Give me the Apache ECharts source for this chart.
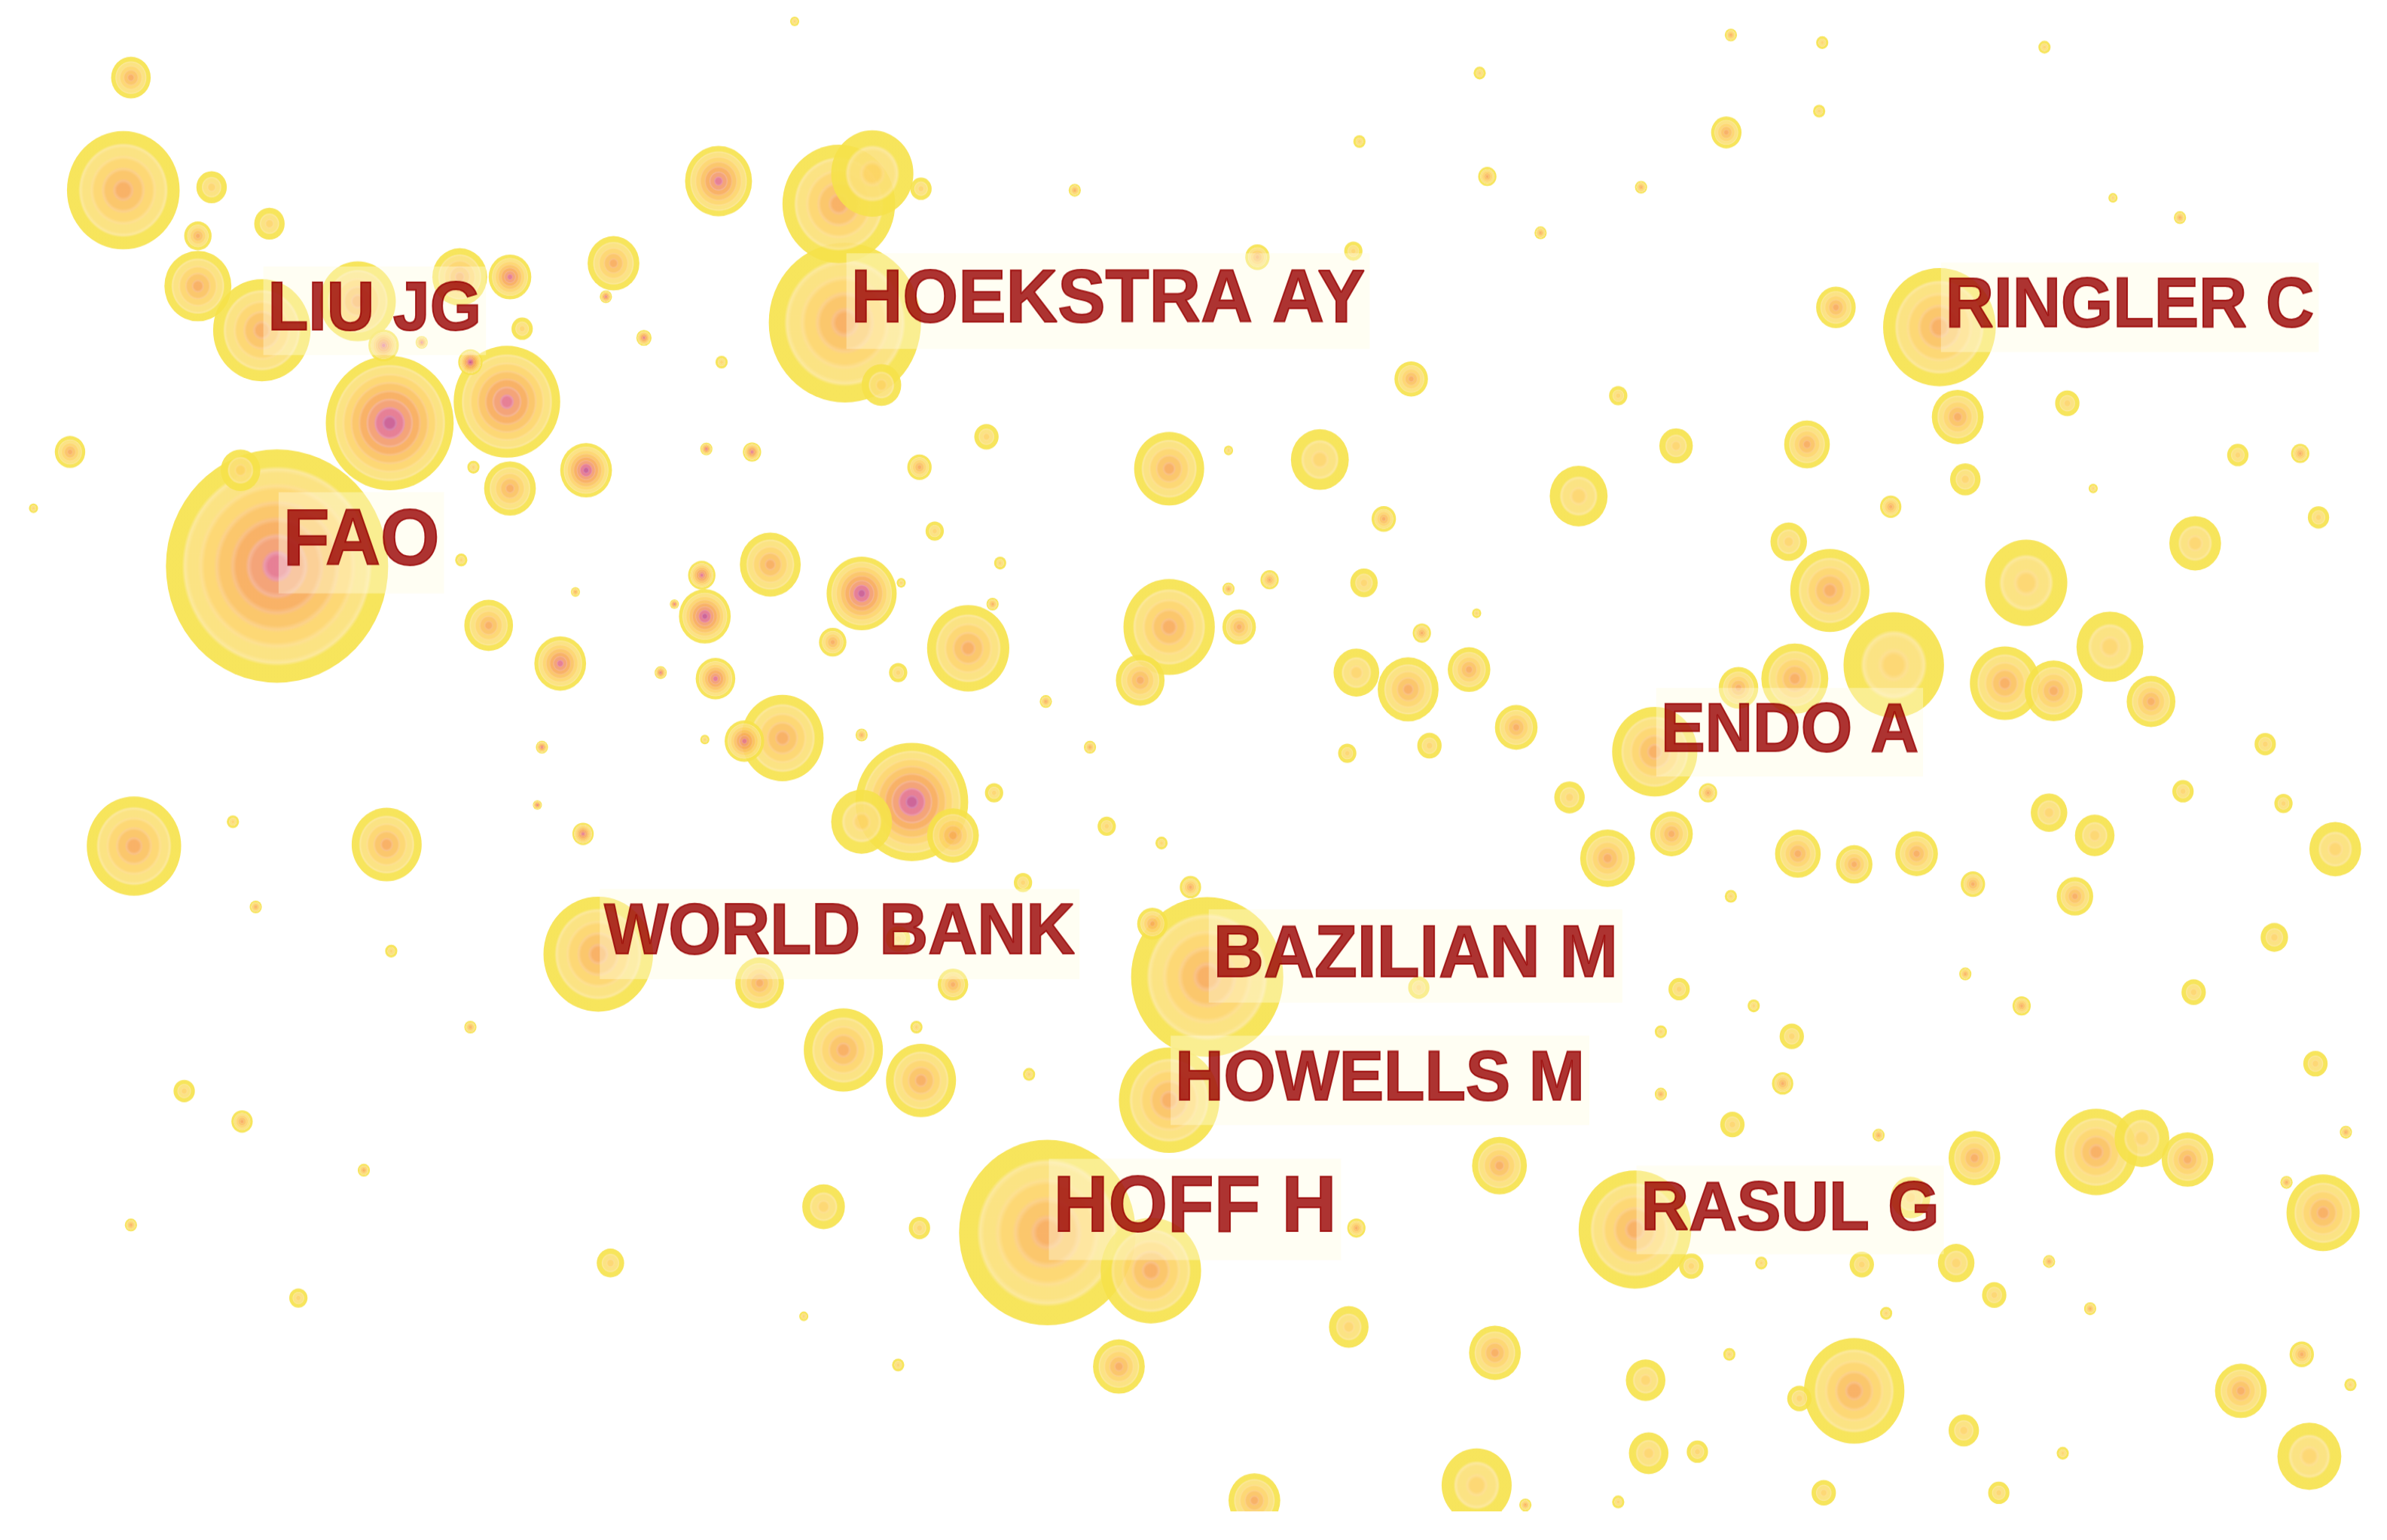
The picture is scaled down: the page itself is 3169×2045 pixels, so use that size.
<!DOCTYPE html>
<html>
<head>
<meta charset="utf-8">
<script src="https://cdn.jsdelivr.net/npm/echarts/dist/echarts.min.js"></script>
<style>
  html { overflow: hidden; background: #ffffff; }
  body { margin: 0; padding: 0; width: 3169px; height: 2045px; background: #ffffff; }
  /* the source picture is stretched ~5% vertically, so is this one */
  #chart { width: 3169px; height: 1911px; transform: scaleY(1.05); transform-origin: 0 0; }
</style>
</head>
<body>
<div id="chart"></div>
<script>
// Nodes: [x, y, size, first year cited] in picture units (x 0-1568, y 0-993)
const nodesTopLeft = [
    [86, 51, 13, 2009], [81, 125, 37, 2009], [139, 123, 10, 2014], [130, 155, 9, 2009],
    [177, 147, 10, 2014], [130, 188, 22, 2009], [172, 217, 32, 2009], [235, 198, 25, 2009],
    [302, 182, 18, 2009], [335, 182, 14, 2004], [403, 173, 17, 2009], [472, 119, 22, 2004],
    [398, 195, 4, 2004], [343, 216, 7, 2014], [252, 227, 10, 2004], [277, 225, 4, 2004],
    [309, 238, 8, 2000], [256, 278, 42, 2000], [333, 264, 35, 2004], [423, 222, 5, 2004],
    [474, 238, 4, 2014], [46, 297, 10, 2009], [22, 334, 3, 2014], [158, 309, 13, 2014],
    [182, 372, 73, 2004], [311, 307, 4, 2014], [335, 321, 17, 2009], [385, 309, 17, 2000],
    [303, 368, 4, 2014], [464, 295, 4, 2004], [494, 297, 6, 2004], [506, 371, 20, 2009],
    [461, 378, 9, 2004], [463, 405, 17, 2000], [378, 389, 3, 2009], [321, 411, 16, 2009],
    [368, 436, 17, 2004], [443, 397, 3, 2004], [434, 442, 4, 2004], [470, 446, 13, 2004],
    [489, 487, 13, 2004], [514, 485, 27, 2009], [356, 491, 4, 2004], [463, 486, 3, 2014]
];
const nodesTopMid = [
    [522, 14, 3, 2014], [551, 134, 37, 2009], [573, 114, 27, 2014], [605, 124, 7, 2014],
    [555, 212, 50, 2009], [579, 253, 13, 2014], [706, 125, 4, 2009], [826, 169, 8, 2009],
    [889, 165, 6, 2014], [972, 48, 4, 2014], [893, 93, 4, 2014], [977, 116, 6, 2009],
    [1012, 153, 4, 2009], [927, 249, 11, 2009], [648, 287, 8, 2014], [604, 307, 8, 2009],
    [768, 308, 23, 2009], [807, 296, 3, 2014], [867, 302, 19, 2014], [1037, 326, 19, 2014],
    [909, 341, 8, 2009], [614, 349, 6, 2014], [566, 390, 23, 2000], [592, 383, 3, 2014],
    [657, 370, 4, 2014], [652, 397, 4, 2009], [547, 422, 9, 2009], [636, 426, 27, 2009],
    [590, 442, 6, 2014], [768, 412, 30, 2009], [749, 447, 16, 2009], [814, 412, 11, 2009],
    [807, 387, 4, 2009], [834, 381, 6, 2009], [896, 383, 9, 2014], [970, 403, 3, 2014],
    [934, 416, 6, 2009], [891, 442, 15, 2014], [925, 453, 20, 2009], [965, 440, 14, 2009],
    [996, 478, 14, 2009], [939, 490, 8, 2014], [885, 495, 6, 2014], [687, 461, 4, 2009],
    [566, 483, 4, 2009], [716, 491, 4, 2009]
];
const nodesTopRight = [
    [1137, 23, 4, 2009], [1197, 28, 4, 2014], [1343, 31, 4, 2014], [1134, 87, 10, 2009],
    [1195, 73, 4, 2014], [1078, 123, 4, 2009], [1388, 130, 3, 2014], [1432, 143, 4, 2009],
    [1206, 202, 13, 2009], [1274, 215, 37, 2009], [1063, 260, 6, 2014], [1286, 274, 17, 2009],
    [1358, 265, 8, 2014], [1101, 293, 11, 2014], [1187, 292, 15, 2009], [1291, 315, 10, 2014],
    [1375, 321, 3, 2014], [1470, 299, 7, 2014], [1511, 298, 6, 2009], [1242, 333, 7, 2009],
    [1523, 340, 7, 2014], [1175, 356, 12, 2014], [1202, 388, 26, 2009], [1331, 383, 27, 2014],
    [1442, 357, 17, 2014], [1179, 446, 22, 2009], [1244, 437, 33, 2014], [1142, 452, 13, 2009],
    [1317, 449, 23, 2009], [1349, 454, 19, 2009], [1386, 425, 22, 2014], [1413, 461, 16, 2009],
    [1488, 489, 7, 2014], [1087, 494, 28, 2009]
];
const nodesBottomLeft = [
    [88, 556, 31, 2009], [153, 540, 4, 2014], [254, 555, 23, 2009], [353, 529, 3, 2004],
    [383, 548, 7, 2004], [168, 596, 4, 2009], [257, 625, 4, 2014], [393, 627, 36, 2009],
    [499, 646, 16, 2009], [309, 675, 4, 2009], [121, 717, 7, 2014], [159, 737, 7, 2009],
    [239, 769, 4, 2009], [86, 805, 4, 2009], [401, 830, 9, 2014], [196, 853, 6, 2014]
];
const nodesBottomMid = [
    [599, 527, 37, 2000], [566, 540, 20, 2014], [626, 549, 17, 2009], [653, 521, 6, 2014],
    [727, 543, 6, 2014], [763, 554, 4, 2014], [672, 580, 6, 2014], [782, 583, 7, 2009],
    [757, 607, 10, 2009], [793, 642, 50, 2009], [626, 647, 10, 2009], [590, 617, 8, 2014],
    [554, 690, 26, 2009], [605, 710, 23, 2009], [602, 675, 4, 2014], [676, 706, 4, 2014],
    [768, 723, 33, 2009], [932, 649, 7, 2014], [985, 766, 18, 2009], [1031, 524, 10, 2014],
    [688, 810, 58, 2009], [756, 835, 33, 2009], [541, 793, 14, 2014], [604, 807, 7, 2014],
    [891, 807, 6, 2009], [886, 872, 13, 2014], [982, 889, 17, 2009], [735, 898, 17, 2009],
    [590, 897, 4, 2014], [528, 865, 3, 2014], [970, 976, 23, 2014], [824, 986, 17, 2009],
    [1002, 989, 4, 2009]
];
const nodesBottomRight = [
    [1122, 521, 6, 2009], [1056, 564, 18, 2009], [1098, 548, 14, 2009], [1181, 561, 15, 2009],
    [1218, 568, 12, 2009], [1259, 561, 14, 2009], [1296, 581, 8, 2009], [1346, 534, 12, 2014],
    [1376, 549, 13, 2014], [1434, 520, 7, 2014], [1500, 528, 6, 2014], [1534, 558, 17, 2014],
    [1363, 589, 12, 2009], [1137, 589, 4, 2014], [1494, 616, 9, 2014], [1291, 640, 4, 2009],
    [1328, 661, 6, 2009], [1441, 652, 8, 2014], [1103, 650, 7, 2014], [1152, 661, 4, 2014],
    [1091, 678, 4, 2014], [1177, 681, 8, 2014], [1171, 712, 7, 2009], [1091, 719, 4, 2009],
    [1521, 699, 8, 2014], [1138, 739, 8, 2014], [1234, 746, 4, 2009], [1297, 761, 17, 2009],
    [1377, 757, 27, 2009], [1407, 748, 18, 2014], [1437, 762, 17, 2009], [1541, 744, 4, 2009],
    [1502, 777, 4, 2009], [1526, 797, 24, 2009], [1074, 808, 37, 2009], [1111, 832, 8, 2014],
    [1157, 830, 4, 2014], [1223, 831, 8, 2014], [1255, 787, 13, 2014], [1285, 830, 12, 2014],
    [1346, 829, 4, 2009], [1310, 851, 8, 2014], [1373, 860, 4, 2009], [1239, 863, 4, 2014],
    [1136, 890, 4, 2014], [1081, 907, 13, 2014], [1182, 919, 8, 2014], [1218, 914, 33, 2009],
    [1290, 940, 10, 2014], [1355, 955, 4, 2014], [1472, 914, 17, 2009], [1512, 890, 8, 2009],
    [1544, 910, 4, 2014], [1517, 957, 21, 2014], [1083, 955, 13, 2014], [1115, 954, 7, 2014],
    [1198, 981, 8, 2014], [1313, 981, 7, 2014], [1063, 987, 4, 2014]
];

// Labelled nodes: [name, x, y]
const labelNodes = [
    ['FAO', 182, 372], ['HOEKSTRA AY', 555, 212], ['LIU JG', 172, 217],
    ['RINGLER C', 1274, 215], ['ENDO A', 1087, 494], ['WORLD BANK', 393, 627],
    ['BAZILIAN M', 793, 642], ['HOWELLS M', 768, 723], ['HOFF H', 688, 810],
    ['RASUL G', 1074, 808]
];

const X_MAX = 1568;
const Y_MAX = 993;
const W = 3169;
const PX = W / X_MAX;              // screen px per picture unit (horizontal)

// citation year rings: oldest (purple) -> newest (yellow)
const ramp = ['#c8558e', '#e4728a', '#f39a6a', '#f8aa56', '#fbc15c', '#fdd466', '#fbe076', '#f6e24a'];
const startIndex = { 2000: 0, 2004: 1, 2009: 3, 2014: 5 };

function lighten(hex, t) {
    const n = parseInt(hex.slice(1), 16);
    const f = v => Math.round(v + (255 - v) * t);
    return 'rgb(' + f((n >> 16) & 255) + ',' + f((n >> 8) & 255) + ',' + f(n & 255) + ')';
}

function ringGradient(year) {
    const cols = ramp.slice(startIndex[year]);
    const n = cols.length;
    const stops = [];
    cols.forEach((c, i) => {
        const a = i / n, b = (i + 1) / n;
        stops.push({ offset: a, color: c });
        stops.push({ offset: a + (b - a) * 0.55, color: c });
        if (i < n - 1) {
            stops.push({ offset: a + (b - a) * 0.8, color: lighten(c, 0.2) });
        }
    });
    stops.push({ offset: 1, color: cols[n - 1] });
    return { type: 'radial', x: 0.5, y: 0.5, r: 0.5, colorStops: stops };
}

const allNodes = [].concat(nodesTopLeft, nodesTopMid, nodesTopRight,
    nodesBottomLeft, nodesBottomMid, nodesBottomRight)
    .sort((a, b) => b[2] - a[2]);

const nodeData = allNodes.map(n => ({
    value: [n[0], n[1]],
    symbolSize: 2 * n[2] * PX,
    itemStyle: { color: ringGradient(n[3]) }
}));

const labelFont = {
    'FAO': 101, 'HOFF H': 101, 'HOEKSTRA AY': 95, 'BAZILIAN M': 93, 'WORLD BANK': 90,
    'RINGLER C': 89, 'HOWELLS M': 89, 'LIU JG': 88, 'ENDO A': 88, 'RASUL G': 88
};

const labelData = labelNodes.map(l => {
    const fs = labelFont[l[0]];
    return {
        name: l[0],
        value: [l[1], l[2]],
        label: {
            fontSize: fs,
            lineHeight: Math.round(fs * 1.27),
            position: [2, -0.36 * fs + 7]
        }
    };
});

const chart = echarts.init(document.getElementById('chart'), null, { renderer: 'canvas' });
chart.setOption({
    backgroundColor: '#ffffff',
    animation: false,
    grid: { left: 0, right: 0, top: 0, bottom: 0 },
    xAxis: { type: 'value', min: 0, max: X_MAX, show: false },
    yAxis: { type: 'value', min: 0, max: Y_MAX, inverse: true, show: false },
    series: [
        {
            type: 'scatter',
            silent: true,
            clip: false,
            symbol: 'circle',
            itemStyle: { opacity: 0.9 },
            data: nodeData,
            z: 2
        },
        {
            type: 'scatter',
            silent: true,
            clip: false,
            symbolSize: 0,
            data: labelData,
            z: 5,
            label: {
                show: true,
                formatter: '{b}',
                align: 'left',
                verticalAlign: 'middle',
                color: '#990000',
                textBorderColor: '#990000',
                textBorderWidth: 2,
                fontFamily: '"Liberation Sans", Arial, sans-serif',
                fontWeight: 'bold',
                backgroundColor: 'rgba(255,252,225,0.5)',
                padding: [0, 6]
            }
        }
    ]
});
</script>
</body>
</html>
